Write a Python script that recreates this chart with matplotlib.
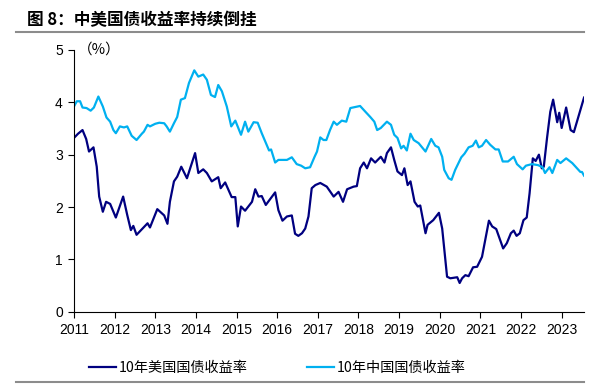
import matplotlib
matplotlib.use("Agg")
import matplotlib.pyplot as plt
from matplotlib.lines import Line2D

plt.rcParams['font.family'] = ['Liberation Sans', 'Noto Sans CJK SC', 'DejaVu Sans']

# 10-year US treasury yield (decimal year, %)
us_t = [2011.00, 2011.10, 2011.21, 2011.30, 2011.37, 2011.48, 2011.56, 2011.62, 2011.71, 2011.79,
        2011.89, 2012.03, 2012.21, 2012.31, 2012.40, 2012.46, 2012.54, 2012.81, 2012.87, 2013.05,
        2013.22, 2013.30, 2013.36, 2013.46, 2013.54, 2013.64, 2013.78, 2013.98, 2014.06, 2014.18,
        2014.27, 2014.39, 2014.55, 2014.61, 2014.72, 2014.88, 2014.97, 2015.03, 2015.11, 2015.21,
        2015.38, 2015.46, 2015.54, 2015.62, 2015.72, 2015.95, 2016.03, 2016.13, 2016.24, 2016.36,
        2016.44, 2016.52, 2016.61, 2016.69, 2016.77, 2016.85, 2016.94, 2017.06, 2017.22, 2017.39,
        2017.51, 2017.62, 2017.72, 2017.88, 2017.96, 2018.04, 2018.13, 2018.21, 2018.31, 2018.41,
        2018.55, 2018.64, 2018.70, 2018.80, 2018.88, 2018.96, 2019.07, 2019.13, 2019.21, 2019.28,
        2019.38, 2019.46, 2019.52, 2019.65, 2019.70, 2019.84, 2019.98, 2020.06, 2020.18, 2020.26,
        2020.43, 2020.49, 2020.55, 2020.63, 2020.71, 2020.82, 2020.92, 2021.04, 2021.21, 2021.29,
        2021.39, 2021.56, 2021.65, 2021.75, 2021.82, 2021.89, 2021.97, 2022.06, 2022.14, 2022.21,
        2022.29, 2022.36, 2022.44, 2022.51, 2022.56, 2022.64, 2022.72, 2022.79, 2022.89, 2022.94,
        2023.00, 2023.11, 2023.22, 2023.30, 2023.55]
us_y = [3.32, 3.40, 3.47, 3.30, 3.06, 3.14, 2.77, 2.20, 1.91, 2.10,
        2.06, 1.80, 2.20, 1.85, 1.56, 1.64, 1.47, 1.69, 1.61, 1.96,
        1.84, 1.68, 2.10, 2.49, 2.58, 2.77, 2.55, 3.03, 2.65, 2.72,
        2.65, 2.49, 2.57, 2.36, 2.47, 2.19, 2.19, 1.63, 2.01, 1.93,
        2.10, 2.34, 2.20, 2.21, 2.04, 2.28, 1.94, 1.74, 1.82, 1.84,
        1.49, 1.45, 1.50, 1.59, 1.82, 2.36, 2.42, 2.46, 2.39, 2.20,
        2.29, 2.10, 2.34, 2.39, 2.40, 2.74, 2.85, 2.74, 2.93, 2.85,
        2.96, 2.85, 3.03, 3.14, 2.90, 2.68, 2.61, 2.74, 2.42, 2.49,
        2.10, 2.01, 2.03, 1.50, 1.66, 1.75, 1.89, 1.59, 0.67, 0.64,
        0.66, 0.55, 0.64, 0.70, 0.68, 0.85, 0.86, 1.05, 1.74, 1.63,
        1.58, 1.21, 1.31, 1.50, 1.55, 1.45, 1.50, 1.75, 1.80, 2.26,
        2.93, 2.88, 3.00, 2.74, 2.77, 3.32, 3.82, 4.05, 3.62, 3.80,
        3.51, 3.90, 3.47, 3.43, 4.09]

# 10-year China government bond yield (decimal year, %)
cn_t = [2011.00, 2011.07, 2011.15, 2011.21, 2011.31, 2011.41, 2011.49, 2011.60, 2011.71, 2011.80,
        2011.89, 2011.97, 2012.03, 2012.13, 2012.23, 2012.31, 2012.42, 2012.54, 2012.67, 2012.72,
        2012.81, 2012.87, 2013.00, 2013.10, 2013.22, 2013.28, 2013.36, 2013.46, 2013.54, 2013.63,
        2013.73, 2013.83, 2013.96, 2014.06, 2014.18, 2014.27, 2014.37, 2014.47, 2014.55, 2014.64,
        2014.76, 2014.87, 2014.97, 2015.11, 2015.21, 2015.29, 2015.42, 2015.52, 2015.62, 2015.74,
        2015.80, 2015.85, 2015.95, 2016.03, 2016.24, 2016.36, 2016.48, 2016.59, 2016.69, 2016.81,
        2016.92, 2016.98, 2017.06, 2017.14, 2017.21, 2017.30, 2017.39, 2017.47, 2017.59, 2017.70,
        2017.80, 2017.92, 2018.04, 2018.17, 2018.29, 2018.39, 2018.46, 2018.55, 2018.70, 2018.80,
        2018.88, 2018.96, 2019.05, 2019.11, 2019.19, 2019.28, 2019.36, 2019.48, 2019.65, 2019.79,
        2019.89, 2019.97, 2020.06, 2020.11, 2020.22, 2020.29, 2020.38, 2020.53, 2020.61, 2020.71,
        2020.81, 2020.89, 2020.96, 2021.04, 2021.14, 2021.24, 2021.37, 2021.45, 2021.55, 2021.68,
        2021.82, 2021.90, 2022.04, 2022.12, 2022.27, 2022.42, 2022.53, 2022.59, 2022.70, 2022.77,
        2022.89, 2022.97, 2023.11, 2023.26, 2023.46, 2023.50, 2023.55]
cn_y = [3.92, 4.02, 4.02, 3.90, 3.89, 3.84, 3.90, 4.11, 3.92, 3.71,
        3.63, 3.47, 3.41, 3.54, 3.52, 3.54, 3.36, 3.28, 3.40, 3.44,
        3.57, 3.54, 3.59, 3.61, 3.60, 3.54, 3.44, 3.60, 3.72, 4.05,
        4.08, 4.37, 4.61, 4.49, 4.53, 4.43, 4.14, 4.10, 4.33, 4.21,
        3.92, 3.54, 3.65, 3.38, 3.63, 3.44, 3.62, 3.61, 3.41, 3.19,
        3.08, 3.10, 2.85, 2.90, 2.90, 2.95, 2.82, 2.79, 2.74, 2.76,
        2.96, 3.06, 3.33, 3.28, 3.28, 3.47, 3.63, 3.57, 3.65, 3.63,
        3.89, 3.91, 3.93, 3.82, 3.72, 3.63, 3.47, 3.51, 3.63, 3.57,
        3.38, 3.32, 3.12, 3.17, 3.08, 3.40, 3.28, 3.22, 3.06, 3.30,
        3.17, 3.14, 2.96, 2.71, 2.55, 2.52, 2.71, 2.95, 3.02, 3.14,
        3.17, 3.27, 3.14, 3.17, 3.28, 3.19, 3.10, 3.10, 2.87, 2.87,
        2.96, 2.82, 2.72, 2.79, 2.82, 2.80, 2.76, 2.65, 2.76, 2.65,
        2.90, 2.84, 2.93, 2.84, 2.67, 2.67, 2.60]

years = list(range(2011, 2024))
us_label = "10年美国国债收益率"
cn_label = "10年中国国债收益率"
title = "图 8：中美国债收益率持续倒挂"

us_color = "#000080"
cn_color = "#00B0F0"
cjk = ['Noto Sans CJK SC', 'DejaVu Sans']

fig = plt.figure(figsize=(5.99, 3.84), dpi=100)
ax = fig.add_axes([0.1235, 0.188, 0.8515, 0.682])

ax.plot(us_t, us_y, color=us_color, lw=1.6)
ax.plot(cn_t, cn_y, color=cn_color, lw=1.6)

ax.set_xlim(2011, 2023.55)
ax.set_ylim(0, 5)
ax.set_xticks(years)
ax.set_xticklabels([str(y) for y in years])
ax.set_yticks(range(6))
ax.tick_params(direction='out', length=4, width=0.8, labelsize=10, pad=4)
ax.spines['top'].set_visible(False)
ax.spines['right'].set_visible(False)
for s in ('left', 'bottom'):
    ax.spines[s].set_linewidth(0.8)

ax.text(0.008, 1.0, "（%）", transform=ax.transAxes, ha='left', va='center',
        fontsize=10.5, family=cjk)

# title and rules
fig.text(0.045, 0.948, title, fontsize=12, fontweight='bold', ha='left', va='center', family=cjk)
fig.add_artist(Line2D([0.027, 0.975], [0.917, 0.917], color='#8c8c8c', lw=1.5))
fig.add_artist(Line2D([0.027, 0.975], [0.006, 0.006], color='#8c8c8c', lw=1.5))

handles = [Line2D([], [], color=us_color, lw=1.6), Line2D([], [], color=cn_color, lw=1.6)]
fig.legend(handles, [us_label, cn_label], loc='center', bbox_to_anchor=(0.463, 0.041),
           ncol=2, frameon=False, handlelength=1.9, handletextpad=0.2, columnspacing=4.2,
           prop={'family': cjk, 'size': 10.2})

fig.savefig("out.png", dpi=100)
